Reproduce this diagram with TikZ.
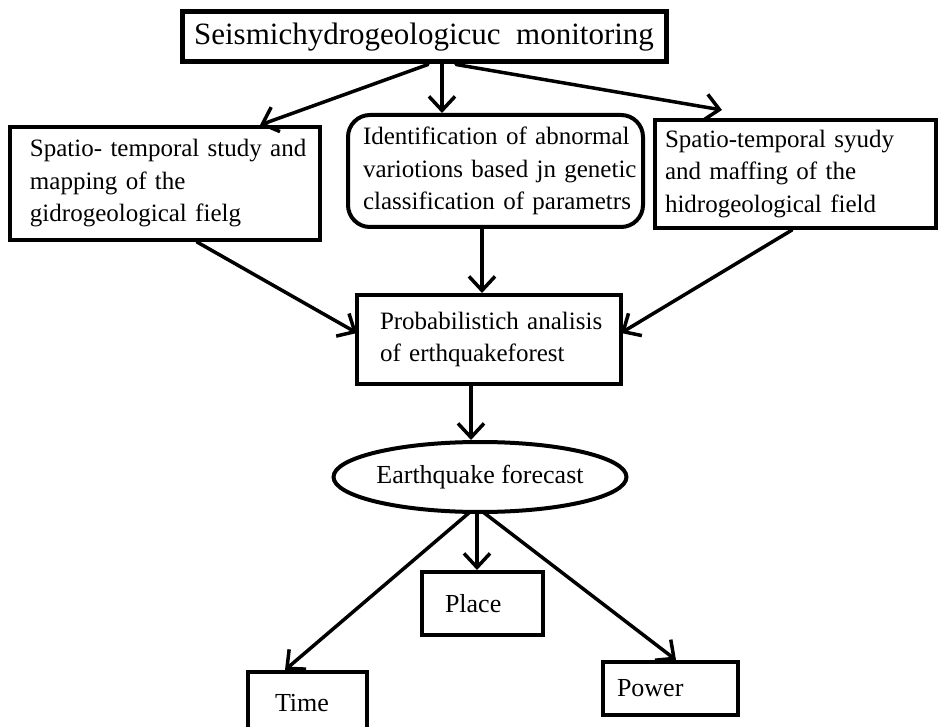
\documentclass[tikz,border=0pt]{standalone}
\usepackage{fontspec}
\setmainfont{Liberation Serif}
\usetikzlibrary{arrows.meta,shapes.geometric}
\tikzset{
  box/.style={draw, line width=4pt, rectangle, inner ysep=0pt, align=left,
              font=\fontsize{25}{32.5}\selectfont},
  arr/.style={line width=3.5pt, line cap=round, -{Straight Barb[length=14pt,width=26pt,line width=3.5pt]}},
}
\begin{document}
\begin{tikzpicture}[x=1pt,y=-1pt]
\useasboundingbox (0,0) rectangle (938,727);
% nodes
\node[box, line width=5pt, minimum width=484pt, minimum height=50pt, inner xsep=0pt,
      font=\fontsize{31}{36}\selectfont] (top) at (424,37) {Seismichydrogeologicuc\ \ monitoring};
\node[box, minimum width=310pt, minimum height=113pt, inner xsep=20pt, text width=270pt] (L) at (165,183.5)
  {\mbox{Spatio- temporal study and}\\\mbox{mapping of the}\\\mbox{gidrogeological fielg}};
\node[box, rounded corners=22pt, minimum width=295pt, minimum height=112pt, inner xsep=15pt, text width=265pt] (M) at (495.5,171)
  {\mbox{Identification of abnormal}\\\mbox{variotions based jn genetic}\\\mbox{classification of parametrs}};
\node[box, minimum width=281pt, minimum height=108pt, inner xsep=10pt, text width=261pt] (R) at (795.5,174)
  {\mbox{Spatio-temporal syudy}\\\mbox{and maffing of the}\\\mbox{hidrogeological field}};
\node[box, minimum width=264pt, minimum height=89pt, inner xsep=23pt, text width=218pt] (P) at (489,339.5)
  {\mbox{Probabilistich analisis}\\\mbox{of erthquakeforest}};
\node[box, ellipse, minimum width=245pt, minimum height=70pt, inner sep=0pt, align=center,
      font=\fontsize{26}{32.5}\selectfont] (E) at (480,477)
  {Earthquake forecast};
\node[box, minimum width=121pt, minimum height=63pt, inner xsep=23pt, text width=75pt,
      font=\fontsize{26}{32.5}\selectfont] (Pl) at (482.5,603.5) {Place};
\node[box, minimum width=119pt, minimum height=63pt, inner xsep=27pt, text width=65pt,
      font=\fontsize{26}{32.5}\selectfont] (Ti) at (307.5,703.5) {Time};
\node[box, minimum width=135pt, minimum height=53pt, inner xsep=14pt, text width=107pt,
      font=\fontsize{26}{32.5}\selectfont] (Po) at (670.5,688.5) {Power};
% connectors
\draw[arr] ([xshift=4pt]top.south) -- ([xshift=95pt]L.north);
\draw[arr] ([xshift=18pt]top.south) -- ([xshift=18pt]top.south |- M.north);
\draw[arr] ([xshift=32pt]top.south) -- ([xshift=-73.5pt,yshift=8pt]R.north);
\draw[arr] ([xshift=32pt]L.south) -- ([xshift=2pt,yshift=6.5pt]P.west);
\draw[arr] ([xshift=-3.5pt]R.south) -- ([xshift=-2pt,yshift=6.5pt]P.east);
\draw[arr] ([xshift=-13.5pt]M.south) -- ([xshift=-13.5pt]M.south |- P.north);
\draw[arr] ([xshift=-18pt]P.south) -- ([xshift=-18pt]P.south |- E.north);
\draw[arr] ([xshift=-3pt]E.south) -- ([xshift=-3pt]E.south |- Pl.north);
\draw[arr] ([xshift=-10pt,yshift=2pt]E.south) -- ([xshift=-22.5pt]Ti.north);
\draw[arr] ([xshift=3pt,yshift=2pt]E.south) -- ([xshift=5.5pt]Po.north);
\end{tikzpicture}
\end{document}
